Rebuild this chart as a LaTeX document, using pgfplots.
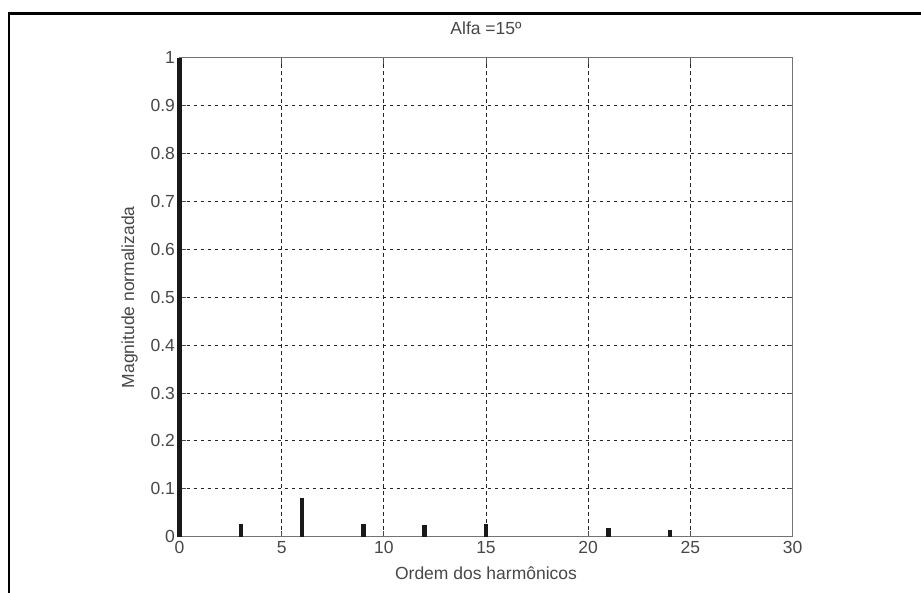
\documentclass[border=0pt]{standalone}
\usepackage{fontspec}
\setmainfont{Liberation Sans}
\usepackage{pgfplots}
\pgfplotsset{compat=1.18}
\begin{document}
\begin{tikzpicture}
\path[use as bounding box] (0pt,0pt) rectangle (921pt,593pt);
\draw[line width=2.5pt] (9pt,0pt) -- (9pt,579.5pt) -- (921pt,579.5pt);
\begin{axis}[
  at={(179.5pt,56.3pt)}, anchor=south west,
  scale only axis, width=613pt, height=479pt,
  xmin=0, xmax=30, ymin=0, ymax=1,
  xtick={0,5,10,15,20,25,30},
  ytick={0,0.1,0.2,0.3,0.4,0.5,0.6,0.7,0.8,0.9,1},
  yticklabel style={/pgf/number format/fixed, /pgf/number format/precision=1},
  /pgf/number format/assume math mode=true,
  grid=major,
  major grid style={black!85, line width=0.9pt, dash pattern=on 3.5pt off 3.5pt},
  tick align=inside,
  major tick length=6pt,
  tick style={black!70, line width=0.9pt},
  axis line style={black!55, line width=1.6pt},
  every tick label/.append style={font=\fontsize{17.5}{20}\selectfont, text=black!72},
  xticklabel style={yshift=-1pt},
  yticklabel style={xshift=-1pt},
  title={Alfa =15º},
  title style={at={(axis description cs:0.5,1)}, anchor=base, yshift=17pt, font=\fontsize{17.5}{20}\selectfont, text=black!72},
  xlabel={Ordem dos harmônicos},
  ylabel={Magnitude normalizada},
  xlabel style={font=\fontsize{17.5}{20}\selectfont, text=black!72, at={(axis description cs:0.5,-0.0772)}, anchor=center},
  ylabel style={font=\fontsize{17.5}{20}\selectfont, text=black!72, at={(axis description cs:-0.0816,0.5)}, anchor=center},
  clip=false,
]
\addplot[ycomb, black!90, line width=4.5pt, mark=none] coordinates {
  (0,1) (3,0.026) (6,0.081) (9,0.026) (12,0.024) (15,0.026) (21,0.019) (24,0.015)
};
\end{axis}
\end{tikzpicture}
\end{document}
